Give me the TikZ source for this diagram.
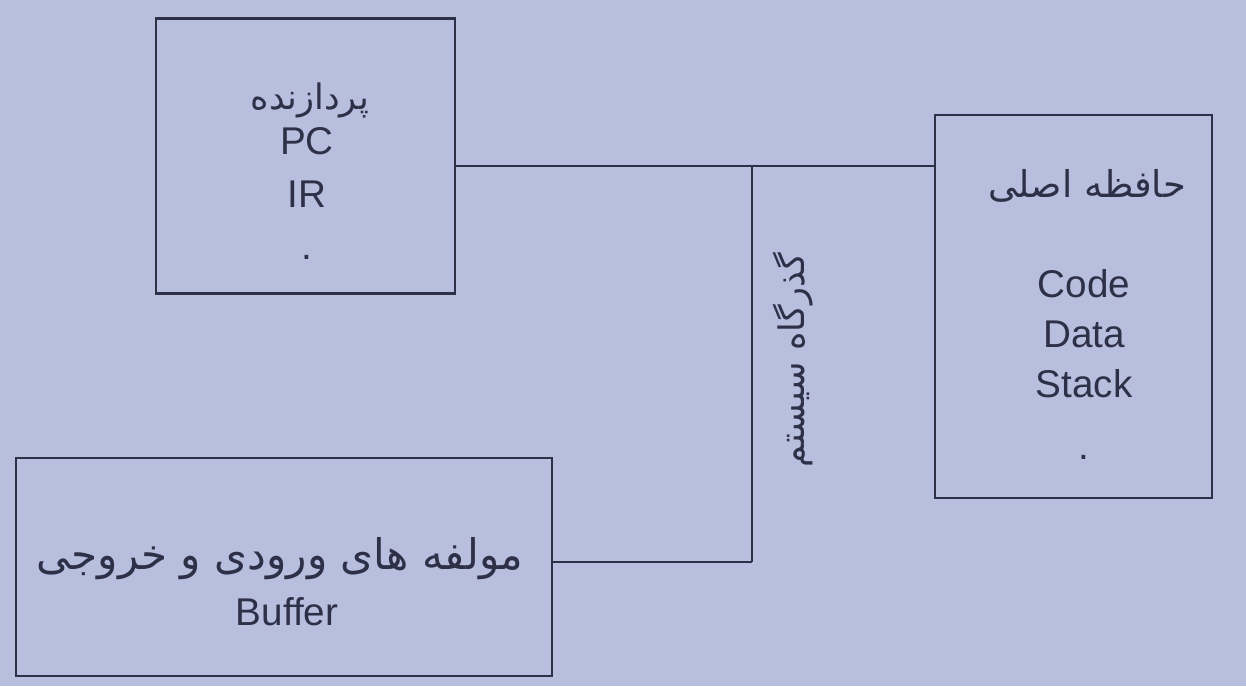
\documentclass[tikz,border=0pt]{standalone}
\usepackage{fontspec}
\setmainfont{Liberation Sans}
\newfontfamily\farsi[Script=Arabic]{DejaVu Sans}
\TeXXeTstate=1
\usetikzlibrary{shapes.geometric, arrows}
\definecolor{paper}{RGB}{184,190,222}
\definecolor{ink}{RGB}{45,48,70}
\tikzstyle{block} = [rectangle, draw=ink, line width=1.2pt, fill=paper]
\tikzstyle{latin} = [text=ink, inner sep=0pt, font=\fontsize{22}{26}\selectfont]
\tikzstyle{persian} = [text=ink, inner sep=0pt, font=\farsi\fontsize{20}{24}\selectfont]
\tikzstyle{bus} = [draw=ink, line width=1.2pt]

\begin{document}
\begin{tikzpicture}[x=0.02cm, y=-0.02cm, node distance=1.06cm]
\fill[paper] (0,0) rectangle (1246,686);
\useasboundingbox (0,0) rectangle (1246,686);

\node (cpu) [block, minimum width=5.98cm, minimum height=5.5cm] at (305.5,156) {};
\node (mem) [block, minimum width=5.54cm, minimum height=7.66cm] at (1073.5,306.5) {};
\node (io) [block, minimum width=10.72cm, minimum height=4.36cm] at (284,567) {};

\node (cpuname) [persian] at (310,100) {\beginR پردازنده\endR};
\node (pc) [latin] at (307,141) {PC};
\node (ir) [latin, below of=pc] {IR};
\node (cpudot) [latin, below of=ir, yshift=-0.2cm] {.};

\node (memname) [persian, font=\farsi\fontsize{21}{25}\selectfont] at (1087,186) {\beginR حافظه اصلی\endR};
\node (code) [latin] at (1084,284) {Code};
\node (data) [latin, below of=code, yshift=0.06cm] {Data};
\node (stack) [latin, below of=data, yshift=0.06cm] {Stack};
\node (memdot) [latin, below of=stack, yshift=-0.4cm] {.};

\node (ioname) [persian, font=\farsi\fontsize{24}{28}\selectfont] at (280,559) {\beginR مولفه های ورودی و خروجی\endR};
\node (buffer) [latin] at (287,612) {Buffer};

\coordinate (bustop) at (752,166);
\coordinate (busbot) at (752,562);
\node (busname) [persian, rotate=90] at (793,360) {\beginR گذرگاه سیستم\endR};

\draw [bus] (cpu.east |- bustop) -- (mem.west |- bustop);
\draw [bus] (bustop) -- (busbot);
\draw [bus] (busbot) -- (io.east |- busbot);
\end{tikzpicture}
\end{document}
